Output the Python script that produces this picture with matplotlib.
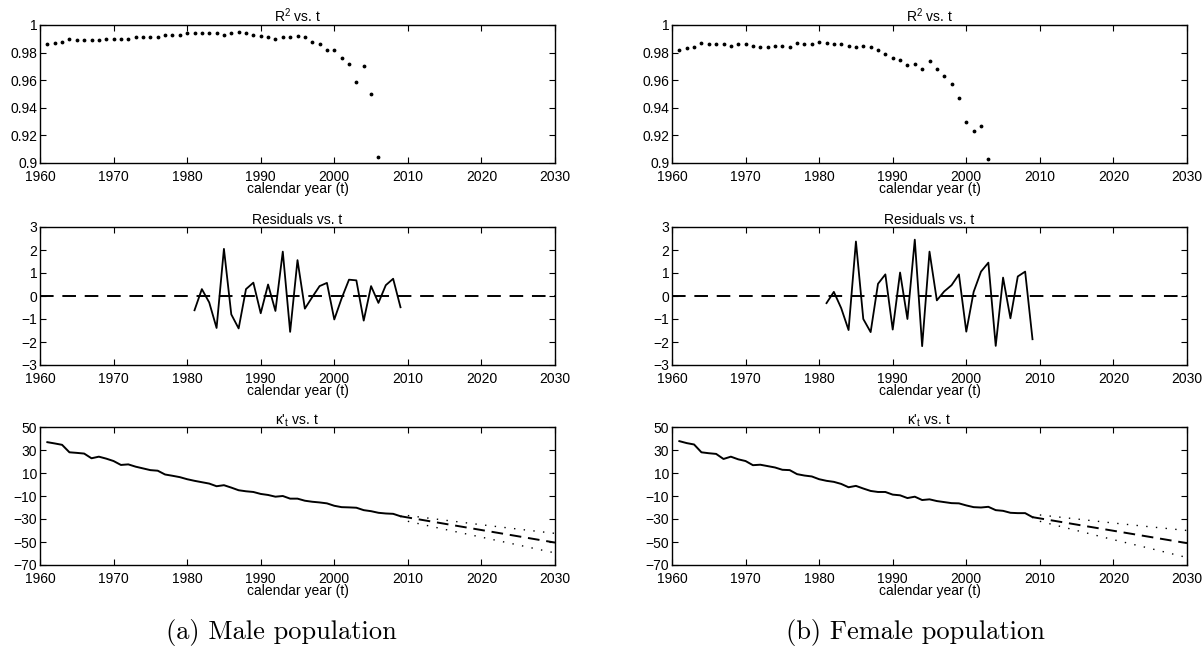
import numpy as np
import matplotlib
matplotlib.use("Agg")
import matplotlib.pyplot as plt

plt.rcParams['font.family'] = ['Liberation Sans', 'DejaVu Sans']
plt.rcParams['mathtext.default'] = 'regular'

# R^2 of the yearly fit
r2_years_m = np.arange(1961, 2007)
r2_male = [0.986, 0.987, 0.988, 0.990, 0.989, 0.989, 0.989, 0.989, 0.990, 0.990,
           0.990, 0.990, 0.991, 0.991, 0.991, 0.991, 0.993, 0.993, 0.993, 0.994,
           0.994, 0.994, 0.994, 0.994, 0.993, 0.994, 0.995, 0.994, 0.993, 0.992,
           0.991, 0.990, 0.991, 0.991, 0.992, 0.991, 0.988, 0.986, 0.982, 0.982,
           0.976, 0.972, 0.959, 0.970, 0.950, 0.904]
r2_years_f = np.arange(1961, 2004)
r2_female = [0.982, 0.983, 0.984, 0.987, 0.986, 0.986, 0.986, 0.985, 0.986, 0.986,
             0.985, 0.984, 0.984, 0.985, 0.985, 0.984, 0.987, 0.986, 0.986, 0.988,
             0.987, 0.986, 0.986, 0.985, 0.984, 0.985, 0.984, 0.982, 0.979, 0.976,
             0.975, 0.971, 0.972, 0.968, 0.974, 0.968, 0.963, 0.957, 0.947, 0.930,
             0.923, 0.927, 0.903]

# residuals
res_years = np.arange(1981, 2010)
res_male = [-0.62, 0.30, -0.28, -1.39, 2.05, -0.80, -1.41, 0.30, 0.58, -0.75,
            0.50, -0.65, 1.93, -1.56, 1.56, -0.55, -0.05, 0.43, 0.57, -1.02,
            -0.10, 0.71, 0.68, -1.07, 0.43, -0.30, 0.47, 0.75, -0.49]
res_female = [-0.31, 0.18, -0.53, -1.48, 2.37, -1.00, -1.57, 0.53, 0.94, -1.46,
              1.02, -1.00, 2.45, -2.18, 1.93, -0.19, 0.20, 0.47, 0.94, -1.55,
              0.18, 1.06, 1.45, -2.17, 0.80, -0.97, 0.85, 1.06, -1.88]

# kappa'_t estimates
kappa_years = np.arange(1961, 2010)
kappa_male = [36.8, 35.7, 34.5, 28.0, 27.5, 26.9, 22.8, 24.2, 22.5, 20.4,
              17.0, 17.5, 15.5, 14.0, 12.5, 12.0, 8.7, 7.6, 6.4, 4.6,
              3.2, 2.0, 0.8, -1.5, -0.6, -2.7, -5.0, -5.9, -6.5, -8.2,
              -9.1, -10.6, -10.0, -12.3, -12.3, -14.1, -15.0, -15.6, -16.4, -18.5,
              -19.7, -19.9, -20.2, -22.3, -23.2, -24.6, -25.2, -25.5, -27.6]
kappa_female = [37.7, 36.0, 34.8, 28.0, 27.2, 26.6, 22.2, 24.2, 21.9, 20.4,
                16.8, 17.2, 16.0, 14.8, 12.8, 12.5, 9.0, 7.8, 7.0, 4.6,
                3.2, 2.3, 0.5, -2.4, -1.2, -3.5, -5.6, -6.5, -6.5, -8.8,
                -9.4, -11.8, -10.6, -13.5, -12.9, -14.4, -15.3, -16.2, -16.4, -18.2,
                -19.7, -20.0, -19.4, -22.3, -22.9, -24.6, -24.9, -24.9, -28.4]

# forecast and bounds
fc_years = [2009, 2030]
fc_male = [-27.6, -50.5]
fc_female = [-28.4, -51.0]
band_years = [2010, 2015, 2020, 2025, 2030]
upper_male = [-27.0, -31.0, -35.0, -38.8, -42.5]
lower_male = [-32.0, -39.0, -45.8, -52.6, -59.5]
upper_female = [-26.5, -30.0, -33.5, -36.8, -40.0]
lower_female = [-32.0, -40.0, -48.0, -55.6, -63.5]

W, H = 1203, 651
fig = plt.figure(figsize=(W / 100, H / 100), dpi=100)

col_left = [40, 672]
ax_w = 515
row_top = [25, 227, 427]
ax_h = 138


def make_ax(col, row):
    x0 = col_left[col]
    y0 = row_top[row]
    return fig.add_axes([x0 / W, 1 - (y0 + ax_h) / H, ax_w / W, ax_h / H])


def minus(vals):
    return [str(v).replace('-', '\u2212') for v in vals]


def style(ax, title, yticks, ylabels, ylim):
    ax.set_xlim(1960, 2030)
    ax.set_xticks(range(1960, 2031, 10))
    ax.set_ylim(*ylim)
    ax.set_yticks(yticks)
    ax.set_yticklabels(ylabels)
    ax.tick_params(direction='in', top=True, right=True, length=4, width=0.8,
                   labelsize=10, colors='black')
    ax.tick_params(axis='x', pad=5)
    ax.tick_params(axis='y', pad=2)
    for s in ax.spines.values():
        s.set_linewidth(1.0)
    ax.set_xlabel('calendar year (t)', fontsize=10, labelpad=-1.5)
    ax.set_title(title, fontsize=10, pad=2)


panels = [
    (r2_years_m, r2_male, res_male, kappa_male, fc_male, upper_male, lower_male),
    (r2_years_f, r2_female, res_female, kappa_female, fc_female, upper_female, lower_female),
]

for col, (r2y, r2, res, kap, fc, up, lo) in enumerate(panels):
    ax = make_ax(col, 0)
    ax.plot(r2y, r2, linestyle='none', marker='.', markersize=3.5, color='black')
    style(ax, 'R$^2$ vs. t', [0.9, 0.92, 0.94, 0.96, 0.98, 1.0],
          ['0.9', '0.92', '0.94', '0.96', '0.98', '1'], (0.9, 1.0))

    ax = make_ax(col, 1)
    ax.plot([1960, 2030], [0, 0], color='black', lw=1.4, linestyle=(0, (7, 4.5)))
    ax.plot(res_years, res, color='black', lw=1.3)
    style(ax, 'Residuals vs. t', range(-3, 4), minus(range(-3, 4)), (-3, 3))

    ax = make_ax(col, 2)
    ax.plot(kappa_years, kap, color='black', lw=1.4)
    ax.plot(fc_years, fc, color='black', lw=1.4, linestyle=(0, (6, 3.5)))
    ax.plot(band_years, up, color='black', lw=1.0, linestyle=(0, (1, 6)))
    ax.plot(band_years, lo, color='black', lw=1.0, linestyle=(0, (1, 6)))
    style(ax, "\u03ba'$_t$ vs. t", range(-70, 51, 20), minus(range(-70, 51, 20)), (-70, 50))

fig.text(281 / W, 1 - 632 / H, '(a) Male population', fontsize=19,
         family='cmr10', ha='center', va='center')
fig.text(915 / W, 1 - 632 / H, '(b) Female population', fontsize=19,
         family='cmr10', ha='center', va='center')

fig.savefig('out.png', dpi=100)
